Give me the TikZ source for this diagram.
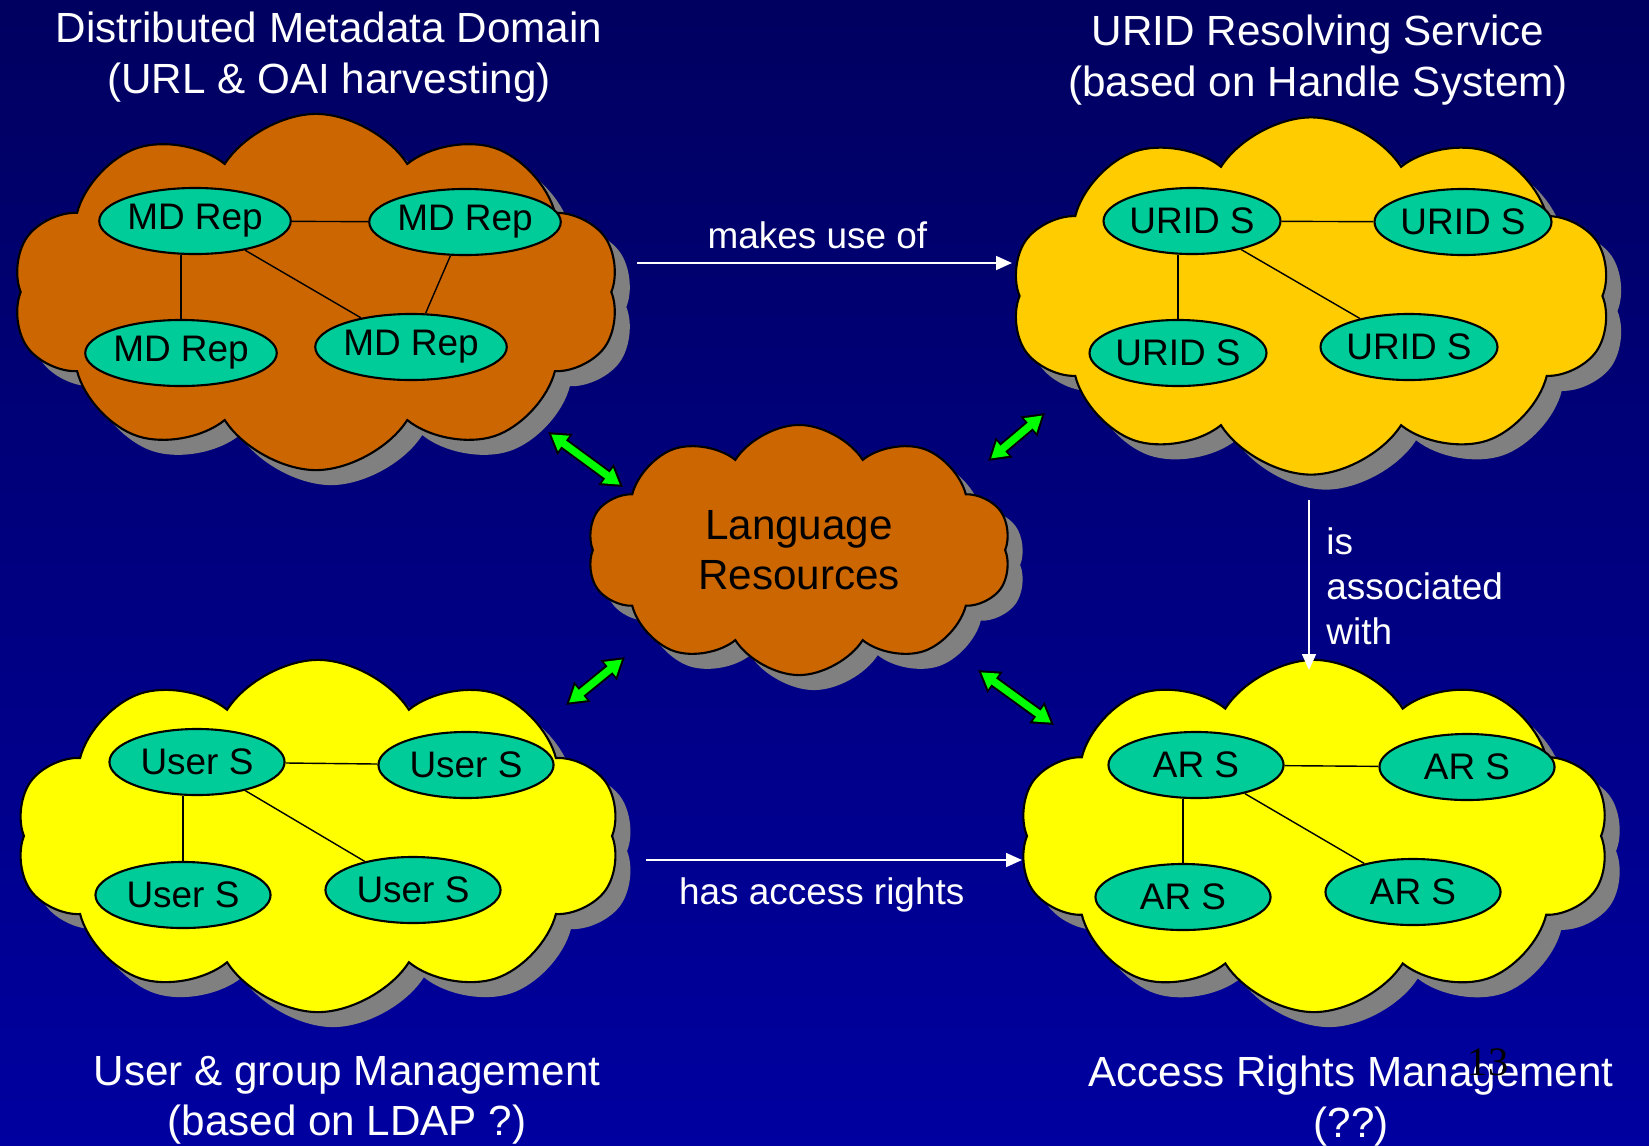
\documentclass[tikz,border=0pt]{standalone}
\usepackage{fontspec}
\setmainfont{Liberation Sans}
\newfontfamily\pagefont{Liberation Serif}
\usetikzlibrary{shapes.symbols,shapes.geometric,shadows,arrows.meta,positioning}
\definecolor{bgTop}{RGB}{0,0,96}
\definecolor{bgBottom}{RGB}{0,0,160}
\definecolor{rustCloud}{RGB}{204,102,0}
\definecolor{goldCloud}{RGB}{255,204,0}
\definecolor{lemonCloud}{RGB}{255,255,0}
\definecolor{serviceGreen}{RGB}{0,204,153}
\definecolor{linkGreen}{RGB}{0,255,0}
\definecolor{shadowGray}{RGB}{128,128,128}

\tikzset{
  domaincloud/.style={cloud, cloud puffs=10, cloud puff arc=115, cloud ignores aspect,
    draw=black, line width=0.6pt, inner sep=0pt,
    drop shadow={shadow xshift=0.15cm, shadow yshift=-0.15cm, fill=shadowGray, opacity=1}},
  service/.style={ellipse, draw=black, line width=0.6pt, fill=serviceGreen,
    minimum width=1.75cm, minimum height=0.66cm, inner sep=0pt,
    font=\fontsize{10.5}{12}\selectfont},
  heading/.style={text=white, align=center, font=\fontsize{12}{14.3}\selectfont},
  relation/.style={text=white, font=\fontsize{10.5}{12.8}\selectfont},
  uses/.style={draw=white, line width=0.6pt, -{Triangle[length=4.5pt,width=3.9pt]}},
  linkout/.style={draw=black, line width=3.2pt,
    {Triangle[length=6pt,width=7pt]}-{Triangle[length=6pt,width=7pt]}},
  linkin/.style={draw=linkGreen, line width=2.1pt, shorten <=1.1pt, shorten >=1.1pt,
    {Triangle[length=4.4pt,width=5.1pt]}-{Triangle[length=4.4pt,width=5.1pt]}}
}

\begin{document}
\begin{tikzpicture}[x=0.01cm, y=-0.01cm]
  \useasboundingbox (0,0) rectangle (1649,1145);
  \shade[top color=bgTop, bottom color=bgBottom] (0,0) rectangle (1649,1145);

  % headings
  \node[heading] (mdTitle) at (329,57) {Distributed Metadata Domain\\(URL \& OAI harvesting)};
  \node[heading] (uridTitle) at (1318,60) {URID Resolving Service\\(based on Handle System)};
  \node[heading] (userTitle) at (347,1100) {User \& group Management\\(based on LDAP ?)};
  \node[heading] (arTitle) at (1351,1101) {Access Rights Management\\(??)};

  % clouds
  \node[domaincloud, fill=rustCloud, minimum width=6.07cm, minimum height=3.56cm] (mdDomain) at (316,292) {};
  \node[domaincloud, fill=goldCloud, minimum width=6.0cm, minimum height=3.57cm] (uridDomain) at (1311,296) {};
  \node[domaincloud, fill=lemonCloud, minimum width=6.04cm, minimum height=3.52cm] (userDomain) at (318,836) {};
  \node[domaincloud, fill=lemonCloud, minimum width=5.91cm, minimum height=3.52cm] (arDomain) at (1314,836) {};
  \node[domaincloud, fill=rustCloud, minimum width=4.24cm, minimum height=2.5cm, align=center,
    font=\fontsize{12}{14.4}\selectfont] (lrCloud) at (799,550) {Language\\Resources};

  % metadata repositories
  \node[service] (mdA) at (195,221) {MD Rep};
  \node[service] (mdB) at (465,222) {MD Rep};
  \node[service] (mdC) at (181,353) {MD Rep};
  \node[service] (mdD) at (411,347) {MD Rep};
  \draw (mdA) -- (mdB);
  \draw (mdA.south -| mdC.north) -- (mdC.north);
  \draw (mdA) -- (mdD);
  \draw (mdB) -- (mdD);

  % resolving services
  \node[service] (uridA) at (1192,221) {URID S};
  \node[service] (uridB) at (1463,222) {URID S};
  \node[service] (uridC) at (1178,353) {URID S};
  \node[service] (uridD) at (1409,347) {URID S};
  \draw (uridA) -- (uridB);
  \draw (uridA.south -| uridC.north) -- (uridC.north);
  \draw (uridA) -- (uridD);

  % user services
  \node[service] (userA) at (197,762) {User S};
  \node[service] (userB) at (466,765) {User S};
  \node[service] (userC) at (183,895) {User S};
  \node[service] (userD) at (413,890) {User S};
  \draw (userA) -- (userB);
  \draw (userA.south -| userC.north) -- (userC.north);
  \draw (userA) -- (userD);

  % access rights services
  \node[service] (arA) at (1196,765) {AR S};
  \node[service] (arB) at (1467,767) {AR S};
  \node[service] (arC) at (1183,897) {AR S};
  \node[service] (arD) at (1413,892) {AR S};
  \draw (arA) -- (arB);
  \draw (arA.south -| arC.north) -- (arC.north);
  \draw (arA) -- (arD);

  % relations between the domains
  \coordinate (usesFrom) at (637,263);
  \coordinate (usesTo) at (1012,263);
  \draw[uses] (usesFrom) -- (usesTo) node[midway, above=0.5pt, xshift=-2pt, relation] (usesLabel) {makes use of};
  \coordinate (rightsFrom) at (646,860);
  \coordinate (rightsTo) at (1022,860);
  \draw[uses] (rightsFrom) -- (rightsTo) node[midway, below=1.5pt, xshift=-3.5pt, relation] (rightsLabel) {has access rights};
  \coordinate (assocFrom) at (1309,500);
  \coordinate (assocTo) at (1309,670);
  \draw[uses] (assocFrom) -- (assocTo);
  \node[relation, align=left, anchor=west] (assocLabel) at (1314,586) {is\\associated\\with};

  % links to the language resources
  \coordinate (mdEnd) at (548,432);   \coordinate (lrNW) at (623,487);
  \coordinate (uridEnd) at (1045,413); \coordinate (lrNE) at (988,461);
  \coordinate (userEnd) at (566,705); \coordinate (lrSW) at (625,657);
  \coordinate (arEnd) at (1054,725);  \coordinate (lrSE) at (978,670);
  \foreach \a/\b in {mdEnd/lrNW, uridEnd/lrNE, userEnd/lrSW, arEnd/lrSE} {
    \draw[linkout] (\a) -- (\b);
    \draw[linkin] (\a) -- (\b);
  }

  \node[font=\pagefont\fontsize{11.5}{12}\selectfont, text=black] (pageNo) at (1488,1062) {13};
\end{tikzpicture}
\end{document}
